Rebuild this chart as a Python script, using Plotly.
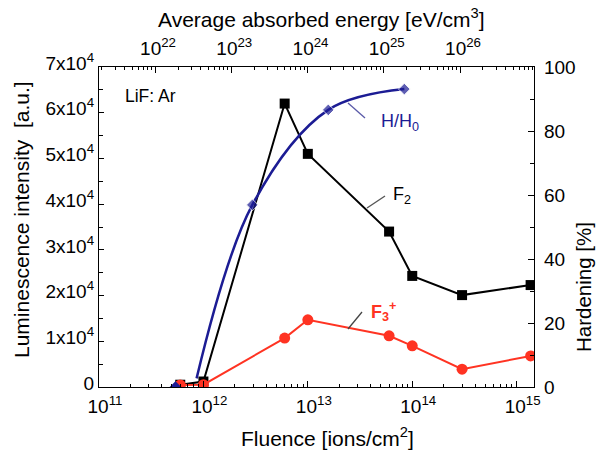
import plotly.graph_objects as go

# ---- data ----
fluence = [6e11, 1e12, 6e12, 1e13, 6e13, 1e14, 3e14, 1.36e15]
f2_lum = [500, 1200, 62000, 51000, 34000, 24300, 20100, 22300]
f3_lum = [450, 500, 10700, 14700, 11200, 9000, 3900, 6800]

h_fluence = [8.6e11, 2.94e12, 1.57e13, 8.4e13]
h_hard = [2.7, 56.9, 86.6, 93.1]
h0_fluence = [5.4e11]
h0_hard = [0]

lum_ticks = [0, 10000, 20000, 30000, 40000, 50000, 60000, 70000]
lum_text = ["0"] + [f"{i}x10<sup>4</sup>" for i in range(1, 8)]
hard_ticks = [0, 20, 40, 60, 80, 100]
flu_ticks = [1e11, 1e12, 1e13, 1e14, 1e15]
flu_text = ["10<sup>11</sup>", "10<sup>12</sup>", "10<sup>13</sup>", "10<sup>14</sup>", "10<sup>15</sup>"]
en_ticks = [1e22, 1e23, 1e24, 1e25, 1e26]
en_text = ["10<sup>22</sup>", "10<sup>23</sup>", "10<sup>24</sup>", "10<sup>25</sup>", "10<sup>26</sup>"]

BLUE = "#1c1c94"
RED = "#ff3322"
FONT = "Liberation Sans, Arial, sans-serif"

# plot area in pixels
L, R, T, B = 99, 534, 67, 387
W, H = 596, 450


def px(x):
    return (x - L) / (R - L)


def py(y):
    return (B - y) / (B - T)


fig = go.Figure()

fig.add_trace(go.Scatter(
    x=h_fluence, y=h_hard, yaxis="y2", mode="lines+markers",
    line=dict(color=BLUE, width=2.5, shape="spline", smoothing=1.0),
    marker=dict(symbol="diamond", size=[0, 9, 9, 9], color=BLUE),
    showlegend=False))
fig.add_trace(go.Scatter(
    x=fluence, y=f2_lum, mode="lines+markers",
    line=dict(color="black", width=2),
    marker=dict(symbol="square", size=10, color="black"),
    showlegend=False))
fig.add_trace(go.Scatter(
    x=fluence, y=f3_lum, mode="lines+markers",
    line=dict(color=RED, width=2),
    marker=dict(symbol="circle", size=11, color=RED),
    showlegend=False))
fig.add_trace(go.Scatter(
    x=h0_fluence, y=h0_hard, yaxis="y2", mode="markers",
    marker=dict(symbol="diamond", size=9, color=BLUE),
    showlegend=False))
# dummy trace to activate the top axis
fig.add_trace(go.Scatter(x=[1e23], y=[None], xaxis="x2", mode="markers",
                         showlegend=False, hoverinfo="skip"))

axis_common = dict(showline=True, linecolor="black", linewidth=1.2, showgrid=False,
                   zeroline=False, tickcolor="black", ticks="inside",
                   tickfont=dict(family=FONT, size=19, color="black"))

fig.update_layout(
    width=W, height=H,
    margin=dict(l=L, r=W - R, t=T, b=H - B),
    paper_bgcolor="white", plot_bgcolor="white",
    font=dict(family=FONT, color="black"),
    xaxis=dict(type="log", range=[11, 15.166], tickvals=flu_ticks, ticktext=flu_text,
               ticklen=6, ticklabelshift=6, ticklabelstandoff=2,
               minor=dict(ticks="inside", ticklen=3, dtick="D1", tickcolor="black"),
               **axis_common),
    xaxis2=dict(type="log", range=[21.265, 26.97], overlaying="x", side="top", anchor="y",
                tickvals=en_ticks, ticktext=en_text, ticklen=6, ticklabelstandoff=3,
                ticklabelshift=3,
                minor=dict(ticks="inside", ticklen=3, dtick="D1", tickcolor="black"),
                **axis_common),
    yaxis=dict(range=[0, 70000], tickvals=lum_ticks, ticktext=lum_text, ticklen=5,
               ticklabelshift=-4,
               minor=dict(ticks="inside", ticklen=4, dtick=5000, tickcolor="black"),
               **axis_common),
    yaxis2=dict(range=[0, 100], overlaying="y", side="right", tickvals=hard_ticks,
                ticklen=6, ticklabelstandoff=5,
                minor=dict(ticks="inside", ticklen=4, dtick=10, tickcolor="black"),
                **axis_common),
)

ann = []
# axis titles
ann.append(dict(x=px(327), y=py(437), text="Fluence [ions/cm<sup>2</sup>]",
                font=dict(size=21)))
ann.append(dict(x=px(321), y=py(18), text="Average absorbed energy [eV/cm<sup>3</sup>]",
                font=dict(size=21)))
ann.append(dict(x=px(21), y=py(220), text="Luminescence intensity  [a.u.]",
                textangle=-90, font=dict(size=21)))
ann.append(dict(x=px(583), y=py(287), text="Hardening [%]",
                textangle=-90, font=dict(size=20.5)))
# in-plot labels
ann.append(dict(x=px(123), y=py(96), text="LiF: Ar", xanchor="left",
                font=dict(size=17.5)))
ann.append(dict(x=px(379), y=py(122), text="H/H<sub>0</sub>", xanchor="left",
                font=dict(size=18, color=BLUE)))
ann.append(dict(x=px(391), y=py(195), text="F<sub>2</sub>", xanchor="left",
                font=dict(size=18)))
ann.append(dict(x=px(369), y=py(311), text="<b>F<sub>3</sub><sup>+</sup></b>", xanchor="left",
                font=dict(size=18, color=RED)))
for a in ann:
    a.update(xref="paper", yref="paper", showarrow=False)
    a.setdefault("xanchor", "center")
    a["yanchor"] = "middle"
    a["font"].setdefault("color", "black")
    a["font"]["family"] = FONT
fig.update_layout(annotations=ann)

shapes = [
    dict(x0=px(348), y0=py(103), x1=px(365), y1=py(118), color="#5a5aa8"),
    dict(x0=px(367), y0=py(208), x1=px(385), y1=py(196), color="#555555"),
    dict(x0=px(348), y0=py(329), x1=px(362), y1=py(312), color="#444444"),
]
fig.update_layout(shapes=[dict(type="line", xref="paper", yref="paper",
                               x0=s["x0"], y0=s["y0"], x1=s["x1"], y1=s["y1"],
                               line=dict(color=s["color"], width=1.3)) for s in shapes])

fig.write_html("out.html")
